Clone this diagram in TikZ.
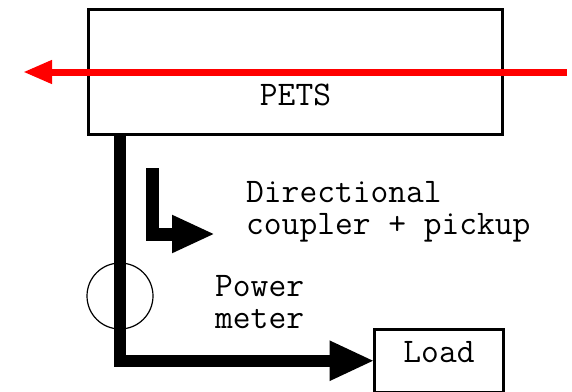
\documentclass[tikz,border=0pt]{standalone}
\usepackage{fontspec}
\usetikzlibrary{arrows.meta,positioning}

\tikzset{
  box/.style={draw=black,line width=3pt,inner sep=0pt,outer sep=0pt},
  lbl/.style={font=\ttfamily\fontsize{34.5}{32}\selectfont,inner sep=0pt},
  feed/.style={line width=12pt,-{Triangle[length=45pt,width=37pt]}},
  beam/.style={draw=red,line width=7pt,-{Triangle[length=29pt,width=22pt]}},
}

\begin{document}
\begin{tikzpicture}[x=1pt,y=-1pt]
  \useasboundingbox (0,0) rectangle (572,391);
  \clip (0,0) rectangle (572,391);

  % structure and load
  \node[box,lbl,minimum width=414pt,text height=95.5pt,text depth=29.5pt,anchor=north]
    (pets) at (295.5,9.5) {PETS};
  \node[box,lbl,minimum width=129pt,text height=32.5pt,text depth=30pt,anchor=north]
    (load) at (439,329.5) {Load};

  % beam through the structure
  \coordinate (beamin)  at (567,72);
  \coordinate (beamout) at (23,72);
  \draw[beam] (beamin) -- (beamout);

  % power meter on the output line
  \node[draw,circle,line width=1.2pt,minimum size=66pt,inner sep=0pt] (meter) at (120,296) {};
  \draw[feed] (meter.center |- pets.south) -- (meter.center |- load.west) -- (load.west);

  % coupler
  \coordinate (cplin)  at (152.5,168);
  \coordinate (cplout) at (215,234);
  \draw[feed,line width=13pt,-{Triangle[length=43pt,width=35pt]}] (cplin) |- (cplout);

  \node[lbl,align=left,anchor=base west] (cpltxt) at (246,234) {Directional\\coupler + pickup};
  \node[lbl,align=left,anchor=base west] (metertxt) at (215,328) {Power\\meter};
\end{tikzpicture}
\end{document}
